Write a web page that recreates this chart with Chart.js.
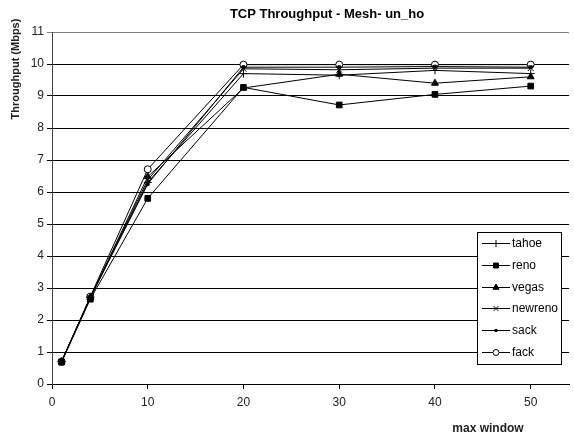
<!DOCTYPE html>
<html>
<head>
<meta charset="utf-8">
<script src="https://cdn.jsdelivr.net/npm/chart.js@4/dist/chart.umd.min.js"></script>
<style>
  html, body { margin: 0; padding: 0; background: #fff; }
  #wrap { width: 574px; height: 438px; }
</style>
</head>
<body>
<div id="wrap"><canvas id="tcpChart" width="574" height="438"></canvas></div>
<script>
// max window sizes (x values)
var windows = [1, 4, 10, 20, 30, 40, 50];

// throughput in Mbps
var tahoe   = [0.70, 2.70, 6.30, 9.70, 9.65, 9.80, 9.70];
var reno    = [0.68, 2.65, 5.80, 9.27, 8.72, 9.05, 9.31];
var vegas   = [0.70, 2.70, 6.48, 9.25, 9.68, 9.40, 9.60];
var newreno = [0.70, 2.70, 6.38, 9.85, 9.82, 9.87, 9.87];
var sack    = [0.70, 2.70, 6.25, 9.90, 9.90, 9.92, 9.90];
var fack    = [0.70, 2.73, 6.71, 9.98, 9.98, 9.98, 9.98];

var names = ['tahoe', 'reno', 'vegas', 'newreno', 'sack', 'fack'];
var yTicks = [0, 1, 2, 3, 4, 5, 6, 7, 8, 9, 10, 11];
var xTicks = [0, 10, 20, 30, 40, 50];

var FONT = 'Liberation Sans, Arial, sans-serif';

function pts(ys) {
  return windows.map(function(x, i) { return { x: x, y: ys[i] }; });
}

// marker styles per series
var markers = [
  { pointStyle: 'cross',    radius: 4,   bg: '#000' },
  { pointStyle: 'rect',     radius: 4,   bg: '#000' },
  { pointStyle: 'triangle', radius: 4,   bg: '#000' },
  { pointStyle: 'crossRot', radius: 4,   bg: '#000' },
  { pointStyle: 'rect',     radius: 2,   bg: '#000' },
  { pointStyle: 'circle',   radius: 3.5, bg: '#fff' }
];

var series = [tahoe, reno, vegas, newreno, sack, fack];
var datasets = series.map(function(s, i) {
  return {
    label: names[i],
    data: pts(s),
    borderColor: '#000',
    borderWidth: 1,
    pointStyle: markers[i].pointStyle,
    pointRadius: markers[i].radius,
    pointBackgroundColor: markers[i].bg,
    pointBorderColor: '#000',
    pointBorderWidth: 1,
    fill: false,
    tension: 0
  };
});

// titles and legend box drawn by hand so they sit where the original has them
var decorations = {
  id: 'decorations',
  afterDraw: function(chart) {
    var ctx = chart.ctx;
    ctx.save();
    ctx.fillStyle = '#000';
    ctx.textAlign = 'center';
    ctx.textBaseline = 'middle';

    ctx.font = 'bold 13px ' + FONT;
    ctx.fillText('TCP Throughput - Mesh- un_ho', 327, 14);

    ctx.font = 'bold 12px ' + FONT;
    ctx.fillStyle = '#222';
    ctx.fillText('max window', 488, 429);

    ctx.font = 'bold 11px ' + FONT;
    ctx.translate(16, 69);
    ctx.rotate(-Math.PI / 2);
    ctx.fillText('Throughput (Mbps)', 0, 0);
    ctx.restore();

    // legend
    var bx = 477, by = 232, bw = 84, bh = 132;
    ctx.save();
    ctx.fillStyle = '#fff';
    ctx.fillRect(bx, by, bw, bh);
    ctx.strokeStyle = '#000';
    ctx.lineWidth = 1;
    ctx.strokeRect(bx + 0.5, by + 0.5, bw, bh);
    ctx.font = '12px ' + FONT;
    ctx.textAlign = 'left';
    ctx.textBaseline = 'middle';
    names.forEach(function(n, i) {
      var y = Math.round(by + 11 + i * 21.8) + 0.5;
      ctx.strokeStyle = '#000';
      ctx.beginPath();
      ctx.moveTo(482, y);
      ctx.lineTo(510, y);
      ctx.stroke();
      ctx.fillStyle = markers[i].bg;
      Chart.helpers.drawPoint(ctx, {
        pointStyle: markers[i].pointStyle,
        radius: markers[i].radius - 0.5,
        rotation: 0,
        borderWidth: 1
      }, 496, y);
      ctx.fillStyle = '#000';
      ctx.fillText(n, 512, y);
    });
    ctx.restore();
  }
};

var ctx = document.getElementById('tcpChart').getContext('2d');
var chart = new Chart(ctx, {
  type: 'line',
  data: { datasets: datasets },
  options: {
    responsive: false,
    animation: false,
    layout: { padding: { top: 32, left: 0, right: 2, bottom: 0 } },
    plugins: {
      legend: { display: false },
      title: { display: false },
      tooltip: { enabled: false }
    },
    scales: {
      x: {
        type: 'linear',
        min: 0,
        max: 54,
        afterBuildTicks: function(s) {
          s.ticks = xTicks.map(function(v) { return { value: v }; });
        },
        afterFit: function(s) { s.height = 54; },
        grid: {
          drawOnChartArea: false,
          drawTicks: true,
          tickLength: 5,
          color: '#000'
        },
        border: { color: '#000', width: 1 },
        ticks: {
          padding: 6,
          color: '#222',
          font: { family: FONT, size: 12 },
          maxRotation: 0
        }
      },
      y: {
        min: 0,
        max: 11,
        afterBuildTicks: function(s) {
          s.ticks = yTicks.map(function(v) { return { value: v }; });
        },
        afterFit: function(s) { s.width = 52; },
        grid: {
          color: function(c) { return c.tick && c.tick.value === 11 ? '#808080' : '#000'; },
          drawTicks: true,
          tickLength: 5
        },
        border: { color: '#404040', width: 1 },
        ticks: {
          padding: 3,
          color: '#222',
          font: { family: FONT, size: 12 }
        }
      }
    }
  },
  plugins: [decorations]
});
</script>
</body>
</html>
